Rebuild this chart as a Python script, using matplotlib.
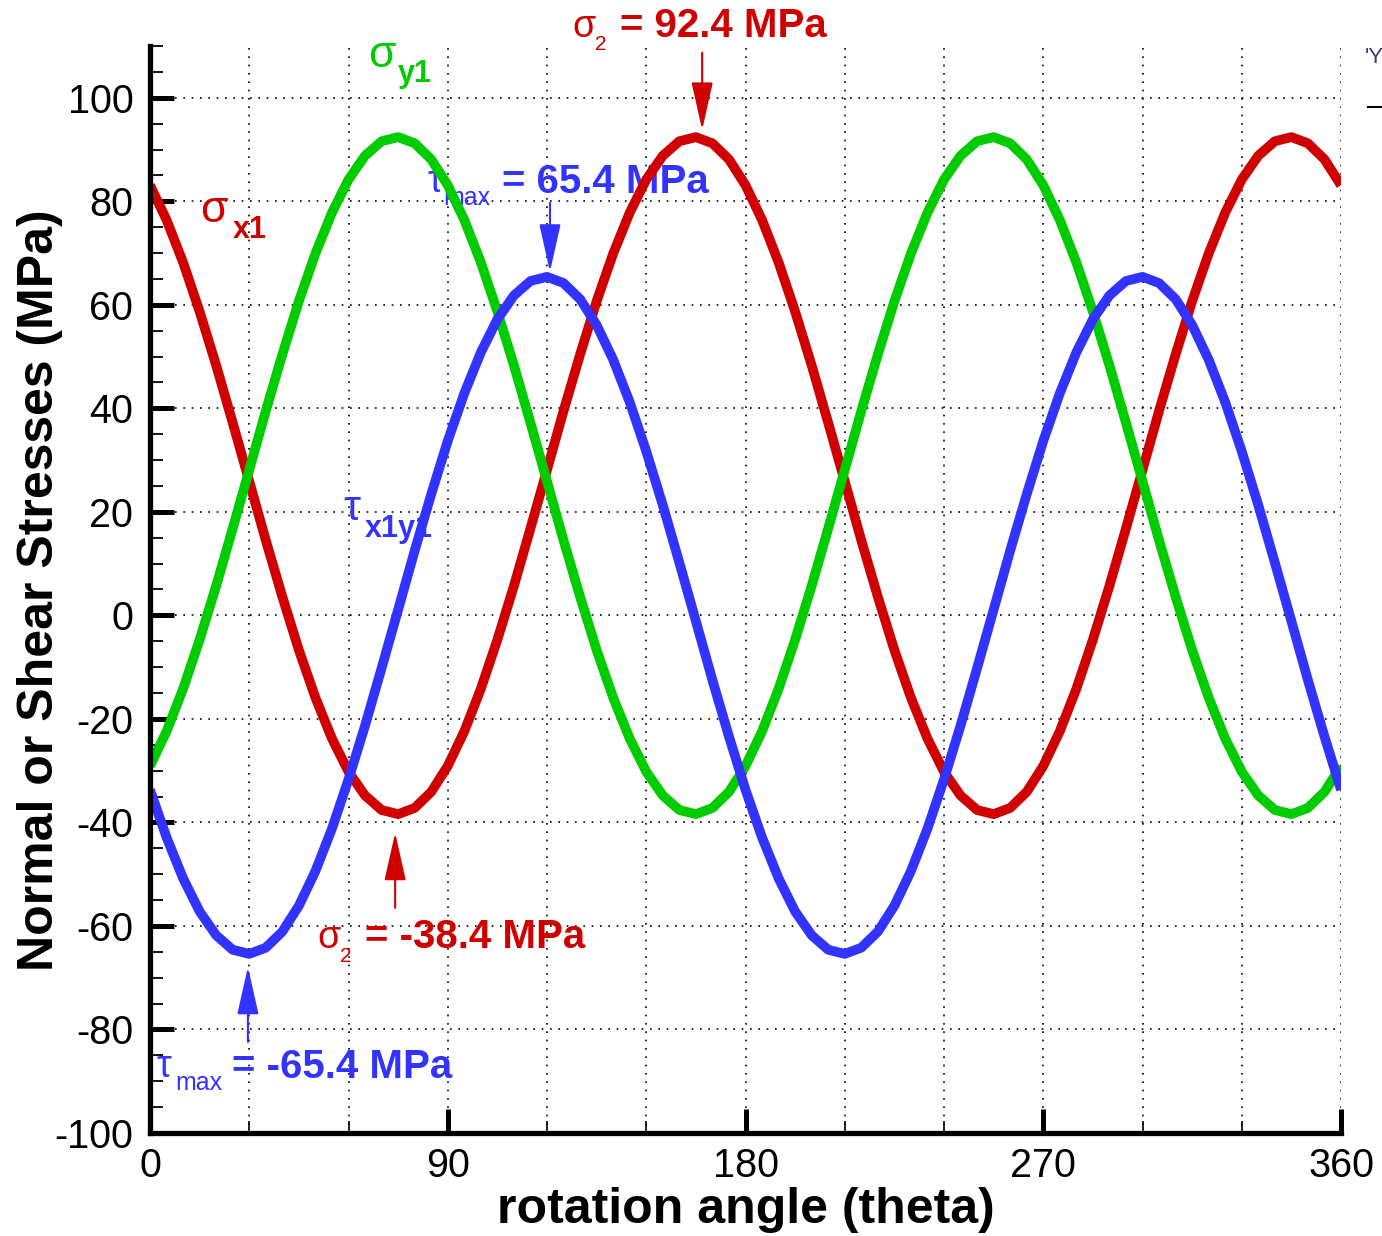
import matplotlib.pyplot as plt
from matplotlib.lines import Line2D

plt.rcParams['font.family'] = ['Liberation Sans', 'DejaVu Sans']
plt.rcParams['axes.unicode_minus'] = False

# rotation angle (deg)
theta = list(range(0, 361, 5))

# normal stress on x1 face (MPa)
sigma_x1 = [83.1, 76.4, 68.2, 58.7, 48.3, 37.2, 25.9, 14.5, 3.6, -6.7,
            -15.9, -23.8, -30.2, -34.8, -37.6, -38.4, -37.2, -34.1, -29.1, -22.4,
            -14.2, -4.7, 5.7, 16.8, 28.1, 39.5, 50.4, 60.7, 69.9, 77.8,
            84.2, 88.8, 91.6, 92.4, 91.2, 88.1,
            83.1, 76.4, 68.2, 58.7, 48.3, 37.2, 25.9, 14.5, 3.6, -6.7,
            -15.9, -23.8, -30.2, -34.8, -37.6, -38.4, -37.2, -34.1, -29.1, -22.4,
            -14.2, -4.7, 5.7, 16.8, 28.1, 39.5, 50.4, 60.7, 69.9, 77.8,
            84.2, 88.8, 91.6, 92.4, 91.2, 88.1, 83.1]

# normal stress on y1 face (MPa)
sigma_y1 = [-29.1, -22.4, -14.2, -4.7, 5.7, 16.8, 28.1, 39.5, 50.4, 60.7,
            69.9, 77.8, 84.2, 88.8, 91.6, 92.4, 91.2, 88.1, 83.1, 76.4,
            68.2, 58.7, 48.3, 37.2, 25.9, 14.5, 3.6, -6.7, -15.9, -23.8,
            -30.2, -34.8, -37.6, -38.4, -37.2, -34.1,
            -29.1, -22.4, -14.2, -4.7, 5.7, 16.8, 28.1, 39.5, 50.4, 60.7,
            69.9, 77.8, 84.2, 88.8, 91.6, 92.4, 91.2, 88.1, 83.1, 76.4,
            68.2, 58.7, 48.3, 37.2, 25.9, 14.5, 3.6, -6.7, -15.9, -23.8,
            -30.2, -34.8, -37.6, -38.4, -37.2, -34.1, -29.1]

# shear stress (MPa)
tau_x1y1 = [-33.7, -42.9, -50.8, -57.2, -61.8, -64.6, -65.4, -64.2, -61.1, -56.1,
            -49.4, -41.2, -31.7, -21.3, -10.2, 1.1, 12.5, 23.4, 33.7, 42.9,
            50.8, 57.2, 61.8, 64.6, 65.4, 64.2, 61.1, 56.1, 49.4, 41.2,
            31.7, 21.3, 10.2, -1.1, -12.5, -23.4,
            -33.7, -42.9, -50.8, -57.2, -61.8, -64.6, -65.4, -64.2, -61.1, -56.1,
            -49.4, -41.2, -31.7, -21.3, -10.2, 1.1, 12.5, 23.4, 33.7, 42.9,
            50.8, 57.2, 61.8, 64.6, 65.4, 64.2, 61.1, 56.1, 49.4, 41.2,
            31.7, 21.3, 10.2, -1.1, -12.5, -23.4, -33.7]

x_ticks = [0, 90, 180, 270, 360]
y_ticks = list(range(-100, 101, 20))

red = '#D00000'
green = '#00CC00'
blue = '#3333FF'

W, H = 1382, 1236
fig = plt.figure(figsize=(W / 100, H / 100), dpi=100)
ax = fig.add_axes([150 / W, 1 - 1133 / H, 1191 / W, 1087 / H])

ax.plot(theta, sigma_x1, color=red, lw=7, solid_capstyle='butt', zorder=2)
ax.plot(theta, sigma_y1, color=green, lw=7, solid_capstyle='butt', zorder=2)
ax.plot(theta, tau_x1y1, color=blue, lw=7, solid_capstyle='butt', zorder=2)

ax.set_xlim(0, 360)
ax.set_ylim(-100, 110)
ax.set_xticks(x_ticks)
ax.set_xticks(range(0, 361, 30), minor=True)
ax.set_yticks(y_ticks)
ax.set_yticks(range(-100, 111, 5), minor=True)
ax.set_xticklabels([str(v) for v in x_ticks])
ax.set_yticklabels([str(v) for v in y_ticks])

ax.set_axisbelow(True)
ax.xaxis.grid(True, which='both', color='black', linestyle=(0, (1, 4)), lw=1.2)
ax.yaxis.grid(True, which='major', color='black', linestyle=(0, (1, 4)), lw=1.2)

for s in ['top', 'right']:
    ax.spines[s].set_visible(False)
for s in ['left', 'bottom']:
    ax.spines[s].set_linewidth(3.8)

ax.tick_params(which='major', direction='in', length=17, width=3.6, labelsize=28.5)
ax.tick_params(axis='y', which='minor', direction='in', length=9.5, width=1.3)
ax.tick_params(axis='x', which='minor', direction='in', length=9, width=1.2)
ax.tick_params(axis='y', which='major', pad=12)
ax.tick_params(axis='x', which='major', pad=10)

fig.text(40 / W, 1 - 590 / H, 'Normal or Shear Stresses (MPa)', rotation=90,
         ha='center', va='center', fontsize=36, fontweight='bold')
fig.text(745.5 / W, 1 - 1210 / H, 'rotation angle (theta)',
         ha='center', va='center', fontsize=36, fontweight='bold')


def label(x, y, s, color, size, weight='normal'):
    ax.text(x, y, s, color=color, fontsize=size, fontweight=weight,
            ha='left', va='baseline', zorder=1.5, clip_on=False)


def arrow(x, y_tip, y_tail, color):
    ax.annotate('', xy=(x, y_tip), xytext=(x, y_tail), zorder=3,
                arrowprops=dict(arrowstyle='-|>,head_length=0.4,head_width=0.09',
                                mutation_scale=75, lw=1.5, color=color,
                                shrinkA=0, shrinkB=0))


# curve names
label(15.1, 76.0, 'σ', red, 32)
label(25.1, 72.9, 'x1', red, 22, 'bold')
label(65.9, 106.0, 'σ', green, 32)
label(75.0, 103.1, 'y1', green, 22, 'bold')
label(58.3, 18.5, 'τ', blue, 31)
label(64.9, 15.2, 'x1y1', blue, 22, 'bold')

# principal stresses
label(127.6, 111.8, 'σ', red, 27)
label(134.5, 109.3, '2', red, 15)
label(142.1, 111.8, '= 92.4 MPa', red, 29, 'bold')
arrow(166.9, 93.8, 108.7, red)

label(50.5, -64.3, 'σ', red, 27)
label(57.4, -67.0, '2', red, 15)
label(65.0, -64.3, '= -38.4 MPa', red, 29, 'bold')
arrow(74.1, -42.0, -56.5, red)

# max shear stresses
label(83.8, 81.8, 'τ', blue, 27)
label(88.6, 79.3, 'max', blue, 18)
label(106.4, 81.6, '= 65.4 MPa', blue, 29, 'bold')
arrow(120.9, 66.4, 79.7, blue)

label(1.9, -89.2, 'τ', blue, 27)
label(7.6, -91.7, 'max', blue, 18)
label(24.8, -89.4, '= -65.4 MPa', blue, 29, 'bold')
arrow(29.6, -67.9, -82.4, blue)

# clipped legend fragment at the right edge
fig.text(1365 / W, 1 - 63 / H, "'Y", color='#3a3a80', fontsize=16)
fig.add_artist(Line2D([1368 / W, 1.0], [1 - 107 / H, 1 - 107 / H],
                      color='black', lw=1.5))

fig.savefig('out.png', dpi=100)
